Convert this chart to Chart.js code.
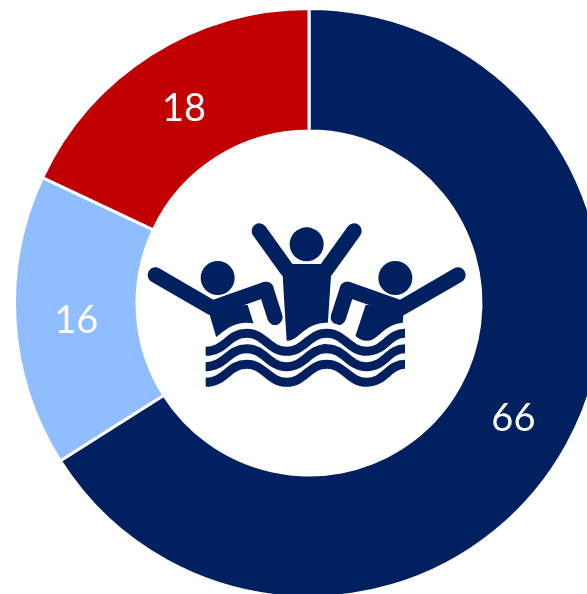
<!DOCTYPE html>
<html><head><meta charset="utf-8">
<style>html,body{margin:0;padding:0;background:#fff;overflow:hidden;width:587px;height:594px}
#w{position:absolute;left:0;top:0;width:618px;height:606px}</style>
<script src="https://cdn.jsdelivr.net/npm/chart.js@4"></script></head><body>
<div id="w"><canvas id="c" width="618" height="606"></canvas></div>
<script>
const categories=['A','B','C'];
const values=[66,16,18];
const colors=['#002060','#8FBDFF','#C00000'];
const ink='#002060';
function limb(x,a,b,w){x.lineWidth=w;x.lineCap='round';x.beginPath();x.moveTo(a[0],a[1]);x.lineTo(b[0],b[1]);x.stroke();}
function poly(x,pts){x.beginPath();pts.forEach((p,i)=>i?x.lineTo(p[0],p[1]):x.moveTo(p[0],p[1]));x.closePath();x.fill();}
function wave(x,y,w,col){x.strokeStyle=col;x.lineWidth=w;x.lineCap='butt';x.beginPath();x.moveTo(197,y+2);
x.bezierCurveTo(255,y+2,265,y-52,320,y-52);x.bezierCurveTo(375,y-52,385,y+2,440,y+2);
x.bezierCurveTo(495,y+2,505,y-52,560,y-52);x.bezierCurveTo(615,y-52,625,y+2,680,y+2);
x.bezierCurveTo(735,y+2,745,y-52,795,y-52);x.stroke();}
const icon={id:'icon',afterDraw(ch){const x=ch.ctx;x.save();x.translate(140,210);x.scale(1/3,1/3);x.fillStyle=ink;x.strokeStyle=ink;
[[500,103],[233,204],[766,204]].forEach(h=>{x.beginPath();x.arc(h[0],h[1],51,0,Math.PI*2);x.fill();});
limb(x,[358,63],[442,180],46);limb(x,[642,63],[558,180],46);
poly(x,[[428,198],[458,162],[543,162],[573,198],[558,420],[443,440]]);
limb(x,[46,195],[215,293],46);limb(x,[225,292],[378,238],46);limb(x,[378,238],[405,322],46);
poly(x,[[205,290],[323,285],[350,370],[240,420],[210,318]]);
limb(x,[954,195],[785,293],46);limb(x,[775,292],[622,238],46);limb(x,[622,238],[595,322],46);
poly(x,[[795,290],[677,285],[635,412],[785,380],[790,318]]);
wave(x,422,63,'#fff');
wave(x,422,27,ink);wave(x,468,27,ink);wave(x,515,27,ink);
x.restore();}};
const labels={id:'labels',afterDatasetsDraw(ch){const x=ch.ctx,m=ch.getDatasetMeta(0);x.save();x.fillStyle='#fff';x.font='38px Lato';x.textAlign='center';x.textBaseline='middle';
m.data.forEach((a,i)=>{const p=a.tooltipPosition();x.fillText(String(values[i]),p.x,p.y+3);});x.restore();}};
new Chart(document.getElementById('c'),{type:'doughnut',data:{labels:categories,datasets:[{data:values,backgroundColor:colors,borderColor:'#fff',borderWidth:3}]},
options:{responsive:false,animation:false,cutout:'58.4%',layout:{padding:{left:13,top:7,right:13,bottom:7}},plugins:{legend:{display:false},tooltip:{enabled:false}}},plugins:[labels,icon]});
</script></body></html>
